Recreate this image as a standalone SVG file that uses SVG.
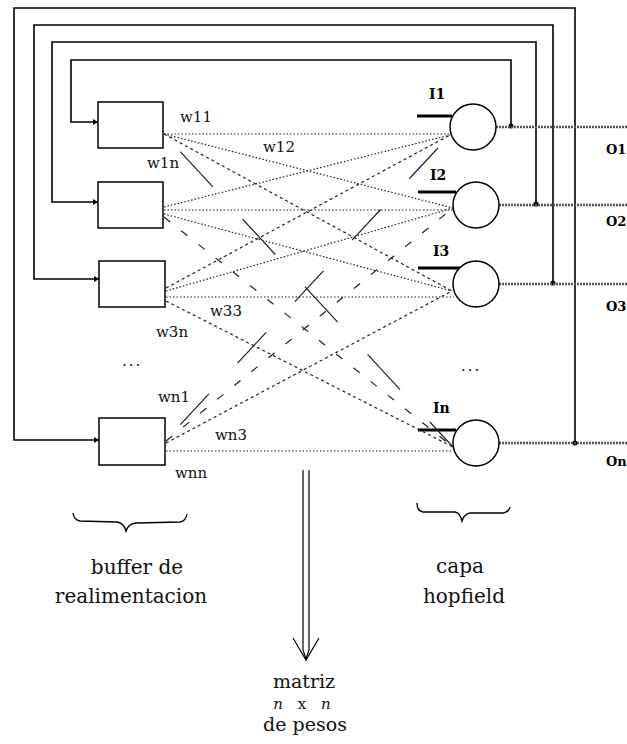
<svg xmlns="http://www.w3.org/2000/svg" width="627" height="744" viewBox="0 0 627 744">
<style>
.loop{fill:none;stroke:#000;stroke-width:1.6}
.box{fill:#fff;stroke:#000;stroke-width:1.5}
.neu{fill:#fff;stroke:#000;stroke-width:1.5}
.bar{stroke:#000;stroke-width:3}
.out{stroke:#555;stroke-width:2.5;stroke-dasharray:2 1}
.dot{stroke:#222;stroke-width:1.2;stroke-dasharray:1.5 2;fill:none}
.dsh{stroke:#222;stroke-width:1.2;stroke-dasharray:3 3;fill:none}
.dsm{stroke:#222;stroke-width:1.2;stroke-dasharray:8 14;fill:none}
.lng{stroke:#222;stroke-width:1.2;fill:none}
.wl{font-family:"DejaVu Serif",serif;font-size:15px;fill:#111}
.bl{font-family:"DejaVu Serif",serif;font-size:14px;font-weight:bold;fill:#000}
.ol{font-family:"DejaVu Serif",serif;font-size:13px;font-weight:bold;fill:#000}
.tx{font-family:"DejaVu Serif",serif;font-size:20px;fill:#111;text-anchor:middle}
.tm{font-family:"DejaVu Serif",serif;font-size:19px;fill:#111;text-anchor:middle}
.tn{font-family:"DejaVu Serif",serif;font-size:15px;fill:#111;text-anchor:middle;word-spacing:10px}
.br{fill:none;stroke:#000;stroke-width:1.4}
</style>
<defs>
<marker id="ah" markerWidth="6" markerHeight="6" refX="5" refY="3" orient="auto" markerUnits="userSpaceOnUse">
<path d="M0,0 L5,3 L0,6 Z" fill="#000"/>
</marker>
</defs>

<g id="connectors">
<!-- feedback loops -->
<path class="loop" d="M511,126 V60 H71 V122 H98" marker-end="url(#ah)"/>
<path class="loop" d="M536,204 V42 H52 V202 H98" marker-end="url(#ah)"/>
<path class="loop" d="M553,283 V25 H34 V279 H99" marker-end="url(#ah)"/>
<path class="loop" d="M575,443 V8 H14 V440 H99" marker-end="url(#ah)"/>
<circle cx="511" cy="126" r="2.5" fill="#000"/>
<circle cx="536" cy="204" r="2.5" fill="#000"/>
<circle cx="553" cy="283" r="2.5" fill="#000"/>
<circle cx="575" cy="443" r="2.5" fill="#000"/>
<!-- outputs -->
<line class="out" x1="496" y1="127" x2="627" y2="127"/>
<line class="out" x1="499" y1="205" x2="627" y2="205"/>
<line class="out" x1="499" y1="284" x2="627" y2="284"/>
<line class="out" x1="499" y1="443" x2="627" y2="443"/>
<!-- inputs -->
<line class="bar" x1="417" y1="116" x2="452" y2="116"/>
<line class="bar" x1="418" y1="192" x2="456" y2="192"/>
<line class="bar" x1="418" y1="268" x2="460" y2="268"/>
<line class="bar" x1="418" y1="430" x2="456" y2="430"/>
<!-- weights -->
<line class="dot" x1="164" y1="134" x2="450" y2="134"/>
<line class="dot" x1="164" y1="134" x2="453" y2="208"/>
<line class="dsh" x1="164" y1="134" x2="452" y2="291"/>
<line class="lng" x1="164" y1="134" x2="453" y2="447" stroke-dasharray="48 44" stroke-dashoffset="68"/>
<line class="dot" x1="164" y1="207" x2="450" y2="135"/>
<line class="dot" x1="164" y1="210" x2="453" y2="210"/>
<line class="dot" x1="164" y1="214" x2="452" y2="291"/>
<line class="dsm" x1="164" y1="217" x2="453" y2="447"/>
<line class="dsh" x1="166" y1="288" x2="450" y2="135"/>
<line class="dot" x1="166" y1="291" x2="453" y2="208"/>
<line class="dot" x1="166" y1="297" x2="454" y2="297"/>
<line class="dsh" x1="166" y1="301" x2="453" y2="447"/>
<line class="lng" x1="166" y1="440" x2="450" y2="135" stroke-dasharray="42 42" stroke-dashoffset="63"/>
<line class="dsm" x1="166" y1="441" x2="453" y2="208"/>
<line class="dsh" x1="166" y1="443" x2="452" y2="291"/>
<line class="dot" x1="166" y1="451" x2="453" y2="451"/>
<!-- matrix arrow -->
<path class="lng" style="stroke:#000" d="M303,470 V650 L306,659 L309,650 V470"/>
<path class="lng" style="stroke:#000" d="M293,638 L306,660 L319,638"/>
</g>

<g id="buffer1"><rect class="box" x="98" y="102" width="65" height="46"/></g>
<g id="buffer2"><rect class="box" x="98" y="182" width="65" height="46"/></g>
<g id="buffer3"><rect class="box" x="99" y="261" width="66" height="46"/></g>
<g id="buffern"><rect class="box" x="99" y="418" width="66" height="47"/></g>

<g id="neuron1"><circle class="neu" cx="473" cy="127" r="23"/></g>
<g id="neuron2"><circle class="neu" cx="476" cy="205" r="23"/></g>
<g id="neuron3"><circle class="neu" cx="476" cy="284" r="23"/></g>
<g id="neuronn"><circle class="neu" cx="476" cy="443" r="23"/></g>

<g id="labels">
<text class="bl" x="429" y="99">I1</text>
<text class="bl" x="430" y="180">I2</text>
<text class="bl" x="433" y="256">I3</text>
<text class="bl" x="433" y="413">In</text>
<text class="ol" x="606" y="154">O1</text>
<text class="ol" x="606" y="226">O2</text>
<text class="ol" x="606" y="311">O3</text>
<text class="ol" x="606" y="466">On</text>
<text class="wl" x="180" y="122">w11</text>
<text class="wl" x="263" y="152">w12</text>
<text class="wl" x="147" y="168">w1n</text>
<text class="wl" x="210" y="316">w33</text>
<text class="wl" x="156" y="337">w3n</text>
<text class="wl" x="158" y="402">wn1</text>
<text class="wl" x="215" y="440">wn3</text>
<text class="wl" x="175" y="478">wnn</text>
<text class="wl" x="122" y="366" letter-spacing="2">...</text>
<text class="wl" x="461" y="371" letter-spacing="2">...</text>
</g>

<g id="brace-buffer">
<path class="br" d="M73,513 Q74,520 80,521 L117,522 Q124,523 126,531 Q128,524 136,523 L180,522 Q186,521 187,514"/>
<text class="tx" x="137" y="574">buffer de</text>
<text class="tx" x="131" y="603">realimentacion</text>
</g>
<g id="brace-hopfield">
<path class="br" d="M417,503 Q417,511 423,512 L455,512 Q460,513 462,521 Q464,514 470,513 L503,513 Q509,512 510,507"/>
<text class="tx" x="460" y="573">capa</text>
<text class="tx" x="464" y="603">hopfield</text>
</g>
<g id="matriz">
<text class="tm" x="304" y="688">matriz</text>
<text class="tn" x="302" y="709"><tspan font-style="italic">n</tspan> x <tspan font-style="italic">n</tspan></text>
<text class="tm" x="305" y="731">de pesos</text>
</g>
</svg>
